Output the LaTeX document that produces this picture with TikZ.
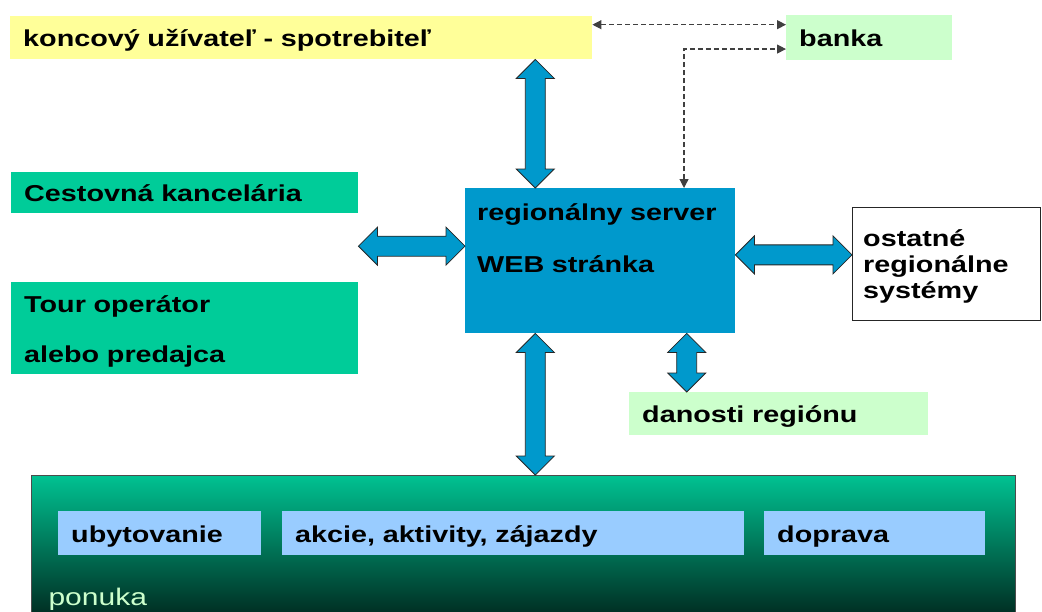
\documentclass[tikz,border=0pt]{standalone}
\usepackage{fontspec}
\setmainfont{Liberation Sans}[FakeStretch=1.25]
\usepackage{tikz}
\usetikzlibrary{arrows.meta,positioning,calc}

\definecolor{usryellow}{HTML}{FFFF99}
\definecolor{lightgreen}{HTML}{CCFFCC}
\definecolor{agentteal}{HTML}{00CC99}
\definecolor{srvblue}{HTML}{0099CC}
\definecolor{itemblue}{HTML}{99CCFF}

% block arrow with a head at both ends, from #1 to #2
\newcommand{\fatlink}[2]{%
  \coordinate (fa) at (#1);
  \coordinate (fb) at (#2);
  \coordinate (ha) at ($(fa)!19pt!(fb)$);
  \coordinate (hb) at ($(fb)!19pt!(fa)$);
  \draw[fatarrow] (fa) -- ($(ha)!19pt!90:(fb)$) -- ($(ha)!10pt!90:(fb)$)
    -- ($(hb)!10pt!-90:(fa)$) -- ($(hb)!19pt!-90:(fa)$) -- (fb)
    -- ($(hb)!19pt!90:(fa)$) -- ($(hb)!10pt!90:(fa)$)
    -- ($(ha)!10pt!-90:(fb)$) -- ($(ha)!19pt!-90:(fb)$) -- cycle;
}

\begin{document}
\begin{tikzpicture}[x=1pt, y=-1pt,
    box/.style={anchor=north west, inner xsep=13pt, inner ysep=0pt, align=left,
      font=\fontsize{23}{28}\selectfont\bfseries, text height=18pt, text depth=0pt},
    fatarrow/.style={fill=srvblue, draw=black!85, line width=0.8pt},
    dashlink/.style={draw=black!75, line width=1.2pt, dash pattern=on 5pt off 3pt,
      {Triangle[length=9pt,width=9pt]}-{Triangle[length=9pt,width=9pt]}}]
  \useasboundingbox (0,0) rectangle (1042,611);

  % top row
  \node[box, fill=usryellow, text width=556pt, minimum height=43pt] (usr) at (10,16)
    {koncový užívateľ - spotrebiteľ};
  \node[box, fill=lightgreen, text width=140pt, minimum height=45pt] (bank) at (786,15)
    {banka};

  % left side
  \node[box, fill=agentteal, text width=321pt, minimum height=41pt] (ck) at (11,172)
    {Cestovná kancelária};
  \node[box, fill=agentteal, text width=321pt, minimum height=92pt, text depth=50pt] (tour) at (11,282)
    {Tour operátor\\[22pt]alebo predajca};

  % server in the middle
  \node[box, fill=srvblue, inner xsep=12pt, text width=246pt, minimum height=145pt, text depth=99pt] (srv) at (465,188)
    {regionálny server\\[24pt]WEB stránka};

  % right side
  \node[box, draw=black!85, fill=white, inner xsep=11pt, text width=166pt, minimum height=113pt, text depth=52pt] (ost) at (852,207)
    {ostatné\\[-2pt]regionálne\\[-2pt]systémy};
  \node[box, fill=lightgreen, text width=273pt, minimum height=43pt] (dan) at (629,392)
    {danosti regiónu};

  % offer at the bottom
  \node[anchor=north west, draw=black!70, minimum width=984pt, minimum height=140pt, inner sep=0pt,
    top color=agentteal!95!black, middle color=agentteal!65!black, bottom color=agentteal!22!black] (pon) at (31,475) {};
  \node[box, fill=itemblue, text width=177pt, minimum height=44pt] (ub) at (58,511) {ubytovanie};
  \node[box, fill=itemblue, text width=436pt, minimum height=44pt] (akc) at (282,511) {akcie, aktivity, zájazdy};
  \node[box, fill=itemblue, text width=195pt, minimum height=44pt] (dop) at (764,511) {doprava};
  \node[anchor=base west, font=\fontsize{24}{28}\selectfont, text=lightgreen] (ponlbl)
    at ([xshift=14pt,yshift=10pt]pon.south west) {ponuka};

  % block arrows
  \coordinate (srvtop) at ($(srv.north west)!.26!(srv.north east)$);
  \coordinate (srvleft) at ($(srv.north west)!.4!(srv.south west)$);
  \coordinate (srvright) at ($(srv.north east)!.46!(srv.south east)$);
  \coordinate (srvbot) at ($(srv.south west)!.26!(srv.south east)$);
  \coordinate (srvdan) at ($(srv.south west)!.82!(srv.south east)$);
  \fatlink{srvtop}{srvtop |- usr.south}
  \fatlink{srvleft}{srvleft -| ck.east}
  \fatlink{srvright}{srvright -| ost.west}
  \fatlink{srvbot}{srvbot |- pon.north}
  \fatlink{srvdan}{srvdan |- dan.north}

  % payment links to the bank
  \coordinate (usrbank) at ($(usr.north east)!.2!(usr.south east)$);
  \coordinate (srvbank) at ($(srv.north west)!.81!(srv.north east)$);
  \coordinate (bankin) at ($(bank.north west)!.75!(bank.south west)$);
  \draw[dashlink] (usrbank) -- (usrbank -| bank.west);
  \draw[dashlink] (srvbank) |- (bankin);
\end{tikzpicture}
\end{document}
